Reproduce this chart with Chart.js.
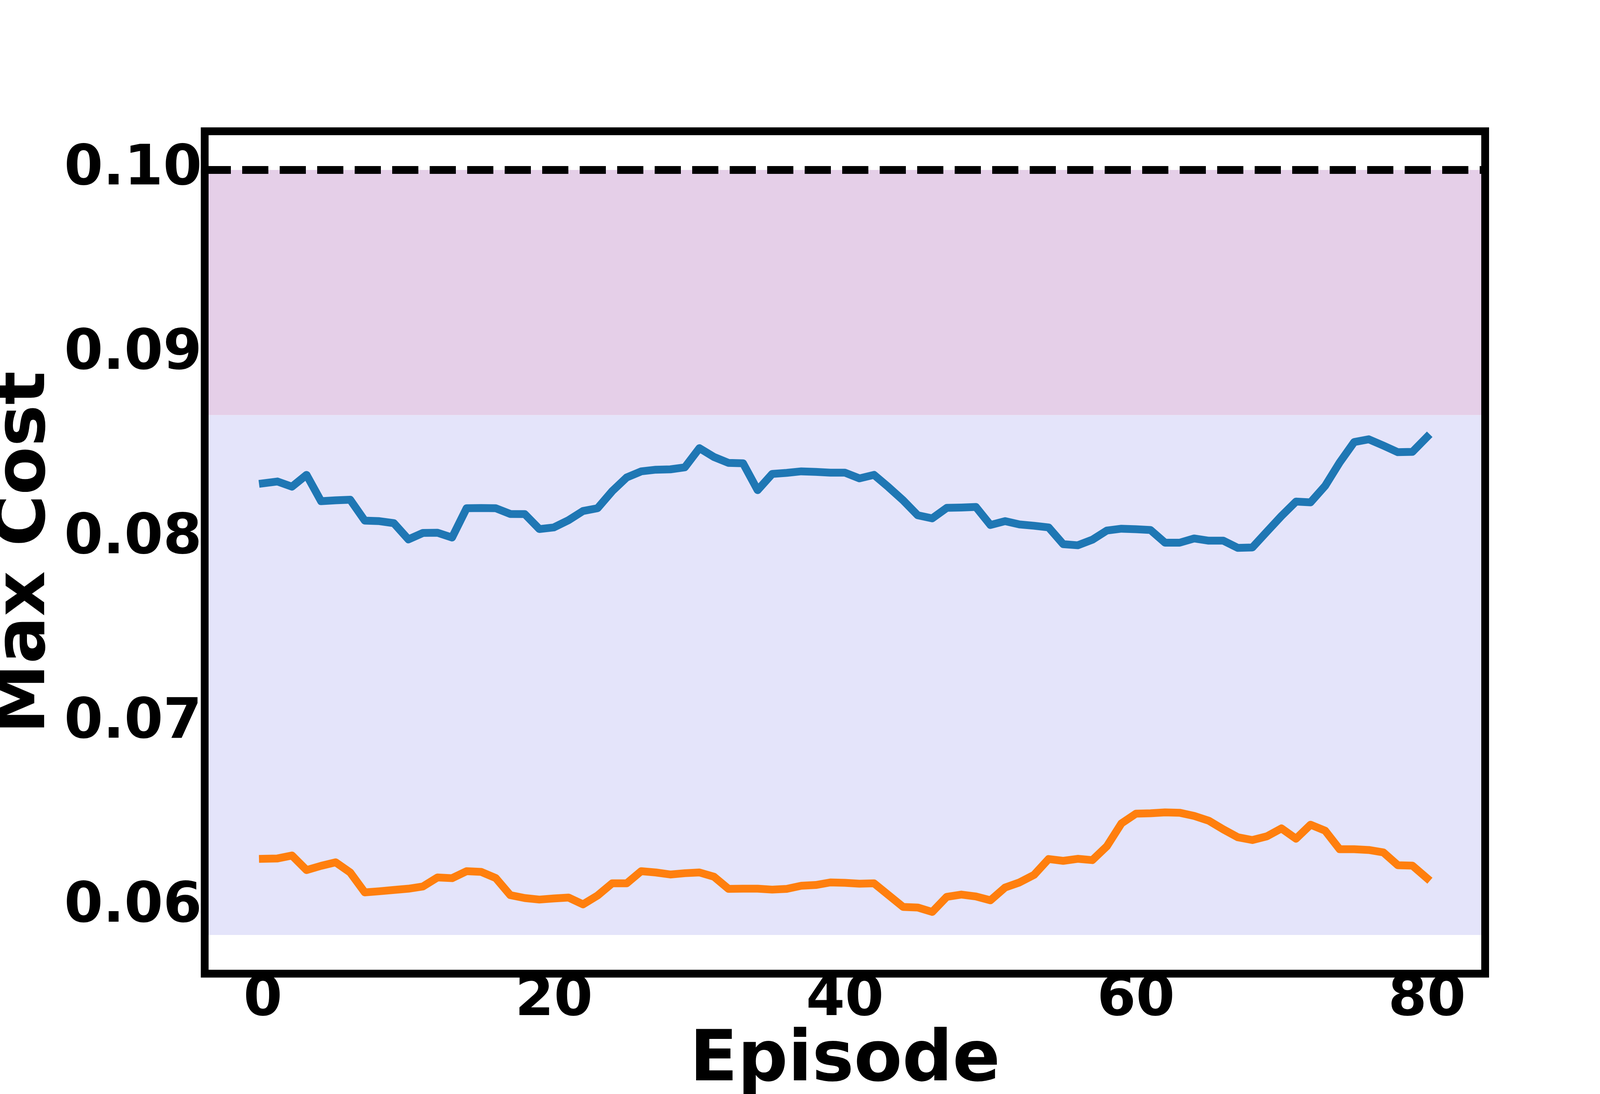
<!DOCTYPE html>
<html>
<head>
<meta charset="utf-8">
<script src="https://cdn.jsdelivr.net/npm/chart.js@4.4.1/dist/chart.umd.min.js"></script>
<style>
    html, body { margin: 0; padding: 0; background: #fff; }
    #wrap { width: 4200px; height: 2800px; }
</style>
</head>
<body>
<div id="wrap"><canvas id="grafica" width="4200" height="2800"></canvas></div>
<script>
// episodes on the x axis
const episodes = [0, 1, 2, 3, 4, 5, 6, 7, 8, 9, 10, 11, 12, 13, 14, 15, 16, 17, 18, 19,
    20, 21, 22, 23, 24, 25, 26, 27, 28, 29, 30, 31, 32, 33, 34, 35, 36, 37, 38, 39,
    40, 41, 42, 43, 44, 45, 46, 47, 48, 49, 50, 51, 52, 53, 54, 55, 56, 57, 58, 59,
    60, 61, 62, 63, 64, 65, 66, 67, 68, 69, 70, 71, 72, 73, 74, 75, 76, 77, 78, 79, 80];

// upper curve (blue)
const costBlue = [0.08300, 0.08310, 0.08282, 0.08346, 0.08203, 0.08208, 0.08211, 0.08098, 0.08095, 0.08084,
    0.07996, 0.08031, 0.08032, 0.08006, 0.08165, 0.08166, 0.08165, 0.08134, 0.08133, 0.08052,
    0.08061, 0.08100, 0.08150, 0.08165, 0.08257, 0.08332, 0.08365, 0.08374, 0.08376, 0.08387,
    0.08491, 0.08443, 0.08411, 0.08409, 0.08263, 0.08351, 0.08357, 0.08365, 0.08362, 0.08358,
    0.08358, 0.08327, 0.08346, 0.08279, 0.08208, 0.08127, 0.08110, 0.08167, 0.08169, 0.08172,
    0.08074, 0.08095, 0.08077, 0.08070, 0.08061, 0.07970, 0.07964, 0.07994, 0.08044, 0.08054,
    0.08051, 0.08047, 0.07978, 0.07978, 0.08001, 0.07989, 0.07989, 0.07950, 0.07952, 0.08038,
    0.08123, 0.08201, 0.08197, 0.08286, 0.08413, 0.08524, 0.08539, 0.08505, 0.08469, 0.08471, 0.08551];

// lower curve (orange)
const costOrange = [0.06263, 0.06265, 0.06281, 0.06202, 0.06225, 0.06244, 0.06189, 0.06081, 0.06087, 0.06094,
    0.06101, 0.06113, 0.06162, 0.06158, 0.06196, 0.06192, 0.06159, 0.06066, 0.06050, 0.06042,
    0.06048, 0.06053, 0.06016, 0.06064, 0.06130, 0.06130, 0.06196, 0.06189, 0.06178, 0.06185,
    0.06189, 0.06166, 0.06100, 0.06101, 0.06101, 0.06096, 0.06100, 0.06117, 0.06121, 0.06135,
    0.06133, 0.06128, 0.06130, 0.06066, 0.06002, 0.05999, 0.05975, 0.06057, 0.06069, 0.06059,
    0.06038, 0.06107, 0.06135, 0.06176, 0.06262, 0.06252, 0.06263, 0.06256, 0.06331, 0.06455,
    0.06508, 0.06510, 0.06515, 0.06513, 0.06496, 0.06470, 0.06423, 0.06380, 0.06365, 0.06385,
    0.06428, 0.06372, 0.06448, 0.06416, 0.06315, 0.06315, 0.06311, 0.06298, 0.06228, 0.06226, 0.06158];

// shaded bands: [top, middle, bottom] and the cost limit
const bandEdges = [0.10, 0.0867, 0.0585];
const costLimit = 0.10;

const xTicks = [0, 20, 40, 60, 80];
const yTicks = [0.06, 0.07, 0.08, 0.09, 0.10];
const xRange = [-4, 84];
const yRange = [0.0564, 0.1021];


const framePlugin = {
    id: 'marco',
    afterDraw(chart) {
        const a = chart.chartArea;
        const ctx = chart.ctx;
        ctx.save();
        ctx.strokeStyle = '#000';
        ctx.lineWidth = 20;
        ctx.strokeRect(a.left, a.top, a.right - a.left, a.bottom - a.top);
        ctx.restore();
    }
};

function puntos(valores) {
    return episodes.map((e, i) => ({x: e, y: valores[i]}));
}

function tramo(y) {
    return [{x: xRange[0], y: y}, {x: xRange[1], y: y}];
}

Chart.defaults.font.family = 'DejaVu Sans';
Chart.defaults.color = '#000';

const ctx = document.getElementById('grafica');
const grafica = new Chart(ctx, {
    type: 'line',
    data: {
        datasets: [
            {
                data: tramo(bandEdges[0]),
                fill: {value: bandEdges[1]},
                backgroundColor: '#e5cfe8',
                borderWidth: 0,
                pointRadius: 0,
                order: 10
            },
            {
                data: tramo(bandEdges[1]),
                fill: {value: bandEdges[2]},
                backgroundColor: '#e4e4fa',
                borderWidth: 0,
                pointRadius: 0,
                order: 9
            },
            {
                data: puntos(costBlue),
                borderColor: '#1f77b4',
                borderWidth: 20,
                borderJoinStyle: 'round',
                borderCapStyle: 'square',
                pointRadius: 0,
                fill: false,
                order: 2
            },
            {
                data: puntos(costOrange),
                borderColor: '#ff7f0e',
                borderWidth: 20,
                borderJoinStyle: 'round',
                borderCapStyle: 'square',
                pointRadius: 0,
                fill: false,
                order: 1
            },
            {
                data: tramo(costLimit),
                borderColor: '#000',
                borderWidth: 20,
                borderDash: [67, 29],
                borderCapStyle: 'butt',
                pointRadius: 0,
                fill: false,
                order: 0
            }
        ]
    },
    options: {
        responsive: false,
        devicePixelRatio: 1,
        animation: false,
        layout: {padding: {left: 0, top: 336, right: 398, bottom: 0}},
        plugins: {
            legend: {display: false},
            tooltip: {enabled: false}
        },
        scales: {
            x: {
                type: 'linear',
                min: xRange[0],
                max: xRange[1],
                afterFit: s => { s.height = 308; },
                afterBuildTicks: s => { s.ticks = xTicks.map(v => ({value: v})); },
                grid: {display: false, drawTicks: false},
                border: {display: false},
                ticks: {
                    padding: -3,
                    maxRotation: 0,
                    font: {size: 143, weight: 'bold', lineHeight: 1},
                    callback: v => String(v)
                },
                title: {
                    display: true,
                    text: 'Episode',
                    padding: {top: 0, bottom: -8},
                    font: {size: 180, weight: 'bold', lineHeight: 1}
                }
            },
            y: {
                type: 'linear',
                min: yRange[0],
                max: yRange[1],
                afterFit: s => { s.width = 524; },
                afterBuildTicks: s => { s.ticks = yTicks.map(v => ({value: v})); },
                grid: {display: false, drawTicks: false},
                border: {display: false},
                ticks: {
                    padding: 7,
                    font: {size: 143, weight: 'bold', lineHeight: 1},
                    callback: v => v.toFixed(2)
                },
                title: {
                    display: true,
                    text: 'Max Cost',
                    padding: {top: -24, bottom: 0},
                    font: {size: 180, weight: 'bold', lineHeight: 1}
                }
            }
        }
    },
    plugins: [framePlugin]
});
</script>
</body>
</html>
